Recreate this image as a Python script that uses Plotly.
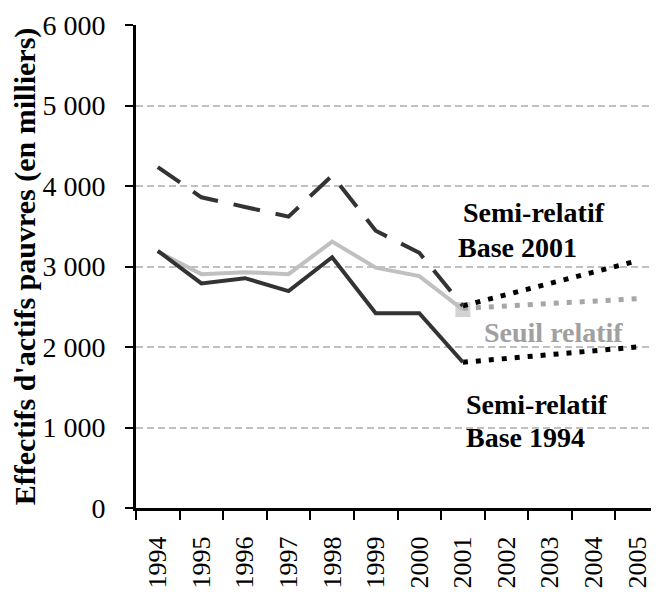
import plotly.graph_objects as go

# data (thousands)
years = [str(y) for y in range(1994, 2006)]

semi_2001 = [4235, 3860, 3740, 3620, 4130, 3445, 3170, 2510, None, None, None, None]
semi_2001_proj = [None, None, None, None, None, None, None, 2510, None, None, None, 3070]

seuil = [3185, 2905, 2930, 2905, 3310, 2985, 2880, 2465, None, None, None, None]
seuil_proj = [None, None, None, None, None, None, None, 2480, None, None, None, 2600]

semi_1994 = [3195, 2790, 2855, 2695, 3115, 2420, 2420, 1810, None, None, None, None]
semi_1994_proj = [None, None, None, None, None, None, None, 1810, None, None, None, 2000]

y_ticks = [0, 1000, 2000, 3000, 4000, 5000, 6000]
y_ticktext = ["0", "1 000", "2 000", "3 000", "4 000", "5 000", "6 000"]

FONT = "Liberation Serif"
DARK = "#333333"
LIGHT = "#c0c0c0"
DOTS = "5px,8px"

# square marker only on the last observed year of the relative threshold
seuil_marker = [15 if y == "2001" else 0 for y in years]

fig = go.Figure()

fig.add_trace(go.Scatter(
	x=years, y=seuil, mode="lines+markers",
	line=dict(color=LIGHT, width=4),
	marker=dict(symbol="square", size=seuil_marker, color=LIGHT, line=dict(width=0))))

fig.add_trace(go.Scatter(
	x=years, y=seuil_proj, mode="lines", connectgaps=True,
	line=dict(color="#a6a6a6", width=5, dash=DOTS)))

fig.add_trace(go.Scatter(
	x=years, y=semi_2001_proj, mode="lines", connectgaps=True,
	line=dict(color="black", width=5, dash=DOTS)))

fig.add_trace(go.Scatter(
	x=years, y=semi_1994_proj, mode="lines", connectgaps=True,
	line=dict(color="black", width=5, dash=DOTS)))

fig.add_trace(go.Scatter(
	x=years, y=semi_1994, mode="lines",
	line=dict(color=DARK, width=4)))

fig.add_trace(go.Scatter(
	x=years, y=semi_2001, mode="lines",
	line=dict(color=DARK, width=4, dash="27px,16px")))

# series labels, one annotation per line to keep the tight line spacing
labels = [
	(6.95, 3665, "Semi-relatif", "black"),
	(6.84, 3242, "Base 2001", "black"),
	(7.44, 2186, "Seuil relatif", "#a0a0a0"),
	(7.02, 1280, "Semi-relatif", "black"),
	(7.02, 870, "Base 1994", "black"),
]
for lx, ly, txt, col in labels:
	fig.add_annotation(x=lx, y=ly, xref="x", yref="y", xanchor="left", yanchor="middle",
		text="<b>" + txt + "</b>", showarrow=False,
		font=dict(family=FONT, size=28, color=col))

# the page body adds an 8px offset, so margins are shifted to compensate
fig.update_layout(
	width=659, height=592,
	margin=dict(l=128, r=8, t=17, b=92),
	paper_bgcolor="white", plot_bgcolor="white",
	showlegend=False,
	font=dict(family=FONT, size=28, color="black"),
	xaxis=dict(
		type="category", range=[-0.5, 11.5], automargin=False,
		tickson="boundaries", ticks="outside", ticklen=9, tickwidth=2, tickcolor="black",
		showline=True, linecolor="black", linewidth=3,
		showgrid=False, tickangle=-90, ticklabelstandoff=15,
		tickfont=dict(family=FONT, size=26)),
	yaxis=dict(
		range=[0, 6000], tickvals=y_ticks, ticktext=y_ticktext, automargin=False,
		ticks="outside", ticklen=8, tickwidth=2, tickcolor="black",
		showline=True, linecolor="black", linewidth=3,
		showgrid=True, gridcolor=LIGHT, gridwidth=1.5, griddash="7px,4px",
		zeroline=False, ticklabelstandoff=14,
		tickfont=dict(family=FONT, size=28),
		title=dict(text="<b>Effectifs d'actifs pauvres (en milliers)</b>",
			font=dict(family=FONT, size=30), standoff=2)),
)

fig.write_html("out.html")
